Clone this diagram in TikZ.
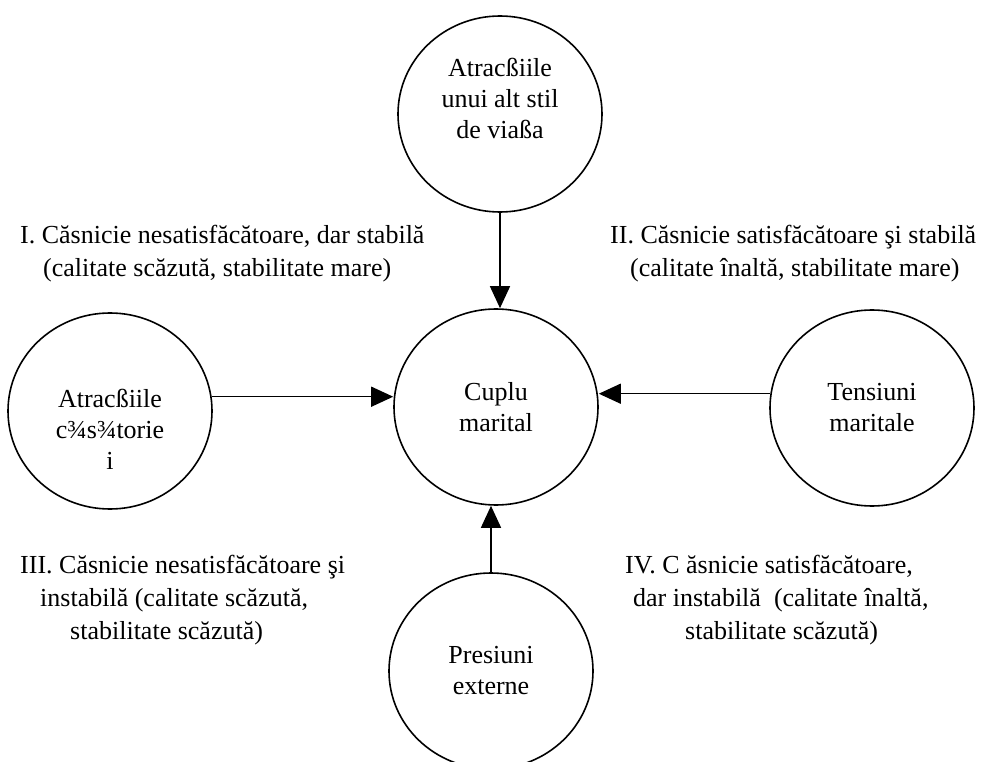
\documentclass[tikz,border=0pt]{standalone}
\usepackage{fontspec}
\setmainfont{Liberation Serif}
\usetikzlibrary{shapes.geometric,arrows.meta}

\begin{document}
\begin{tikzpicture}[x=1pt,y=-1pt,
   bubble/.style={draw, line width=1.6pt, ellipse, minimum width=204pt, minimum height=196pt, inner sep=0pt},
   inside/.style={align=center, inner sep=0pt, font=\fontsize{26}{31}\selectfont},
   quad/.style={anchor=base west, align=left, inner sep=0pt, font=\fontsize{26}{33}\selectfont},
   push/.style={line width=1.4pt, -{Triangle[length=22pt,width=20pt]}}]
   \useasboundingbox (0,0) rectangle (986,762);

   % the couple and the forces round it
   \node[bubble, label={[inside]center:{Cuplu\\marital}}] (cuplu) at (496,407) {};
   \node[bubble, label={[inside, yshift=16pt]center:{Atracßiile\\unui alt stil\\de viaßa}}] (stil) at (500,114) {};
   \node[bubble, label={[inside, yshift=-18pt]center:{Atracßiile\\c¾s¾torie\\i}}] (atrac) at (110,411) {};
   \node[bubble, label={[inside]center:{Tensiuni\\maritale}}] (tens) at (872,408) {};
   \node[bubble, label={[inside]center:{Presiuni\\externe}}] (pres) at (491,671) {};

   \draw[push] (stil.south) -- (stil.south |- cuplu.north);
   \draw[push] (atrac.8) -- (atrac.8 -| cuplu.west);
   \draw[push] (tens.172) -- (tens.172 -| cuplu.east);
   \draw[push] (pres.north) -- (pres.north |- cuplu.south);

   % the four kinds of marriage (base = last line)
   \node[quad] (q1) at (20,277) {I. Căsnicie nesatisfăcătoare, dar stabilă\\\hspace*{23pt}(calitate scăzută, stabilitate mare)};
   \node[quad] (q2) at (610,277) {II. Căsnicie satisfăcătoare şi stabilă\\\hspace*{20pt}(calitate înaltă, stabilitate mare)};
   \node[quad] (q3) at (20,639) {III. Căsnicie nesatisfăcătoare şi\\\hspace*{20pt}instabilă (calitate scăzută,\\\hspace*{50pt}stabilitate scăzută)};
   \node[quad] (q4) at (625,639) {IV. C ăsnicie satisfăcătoare,\\\hspace*{8pt}dar instabilă\ \ (calitate înaltă,\\\hspace*{60pt}stabilitate scăzută)};
\end{tikzpicture}
\end{document}
